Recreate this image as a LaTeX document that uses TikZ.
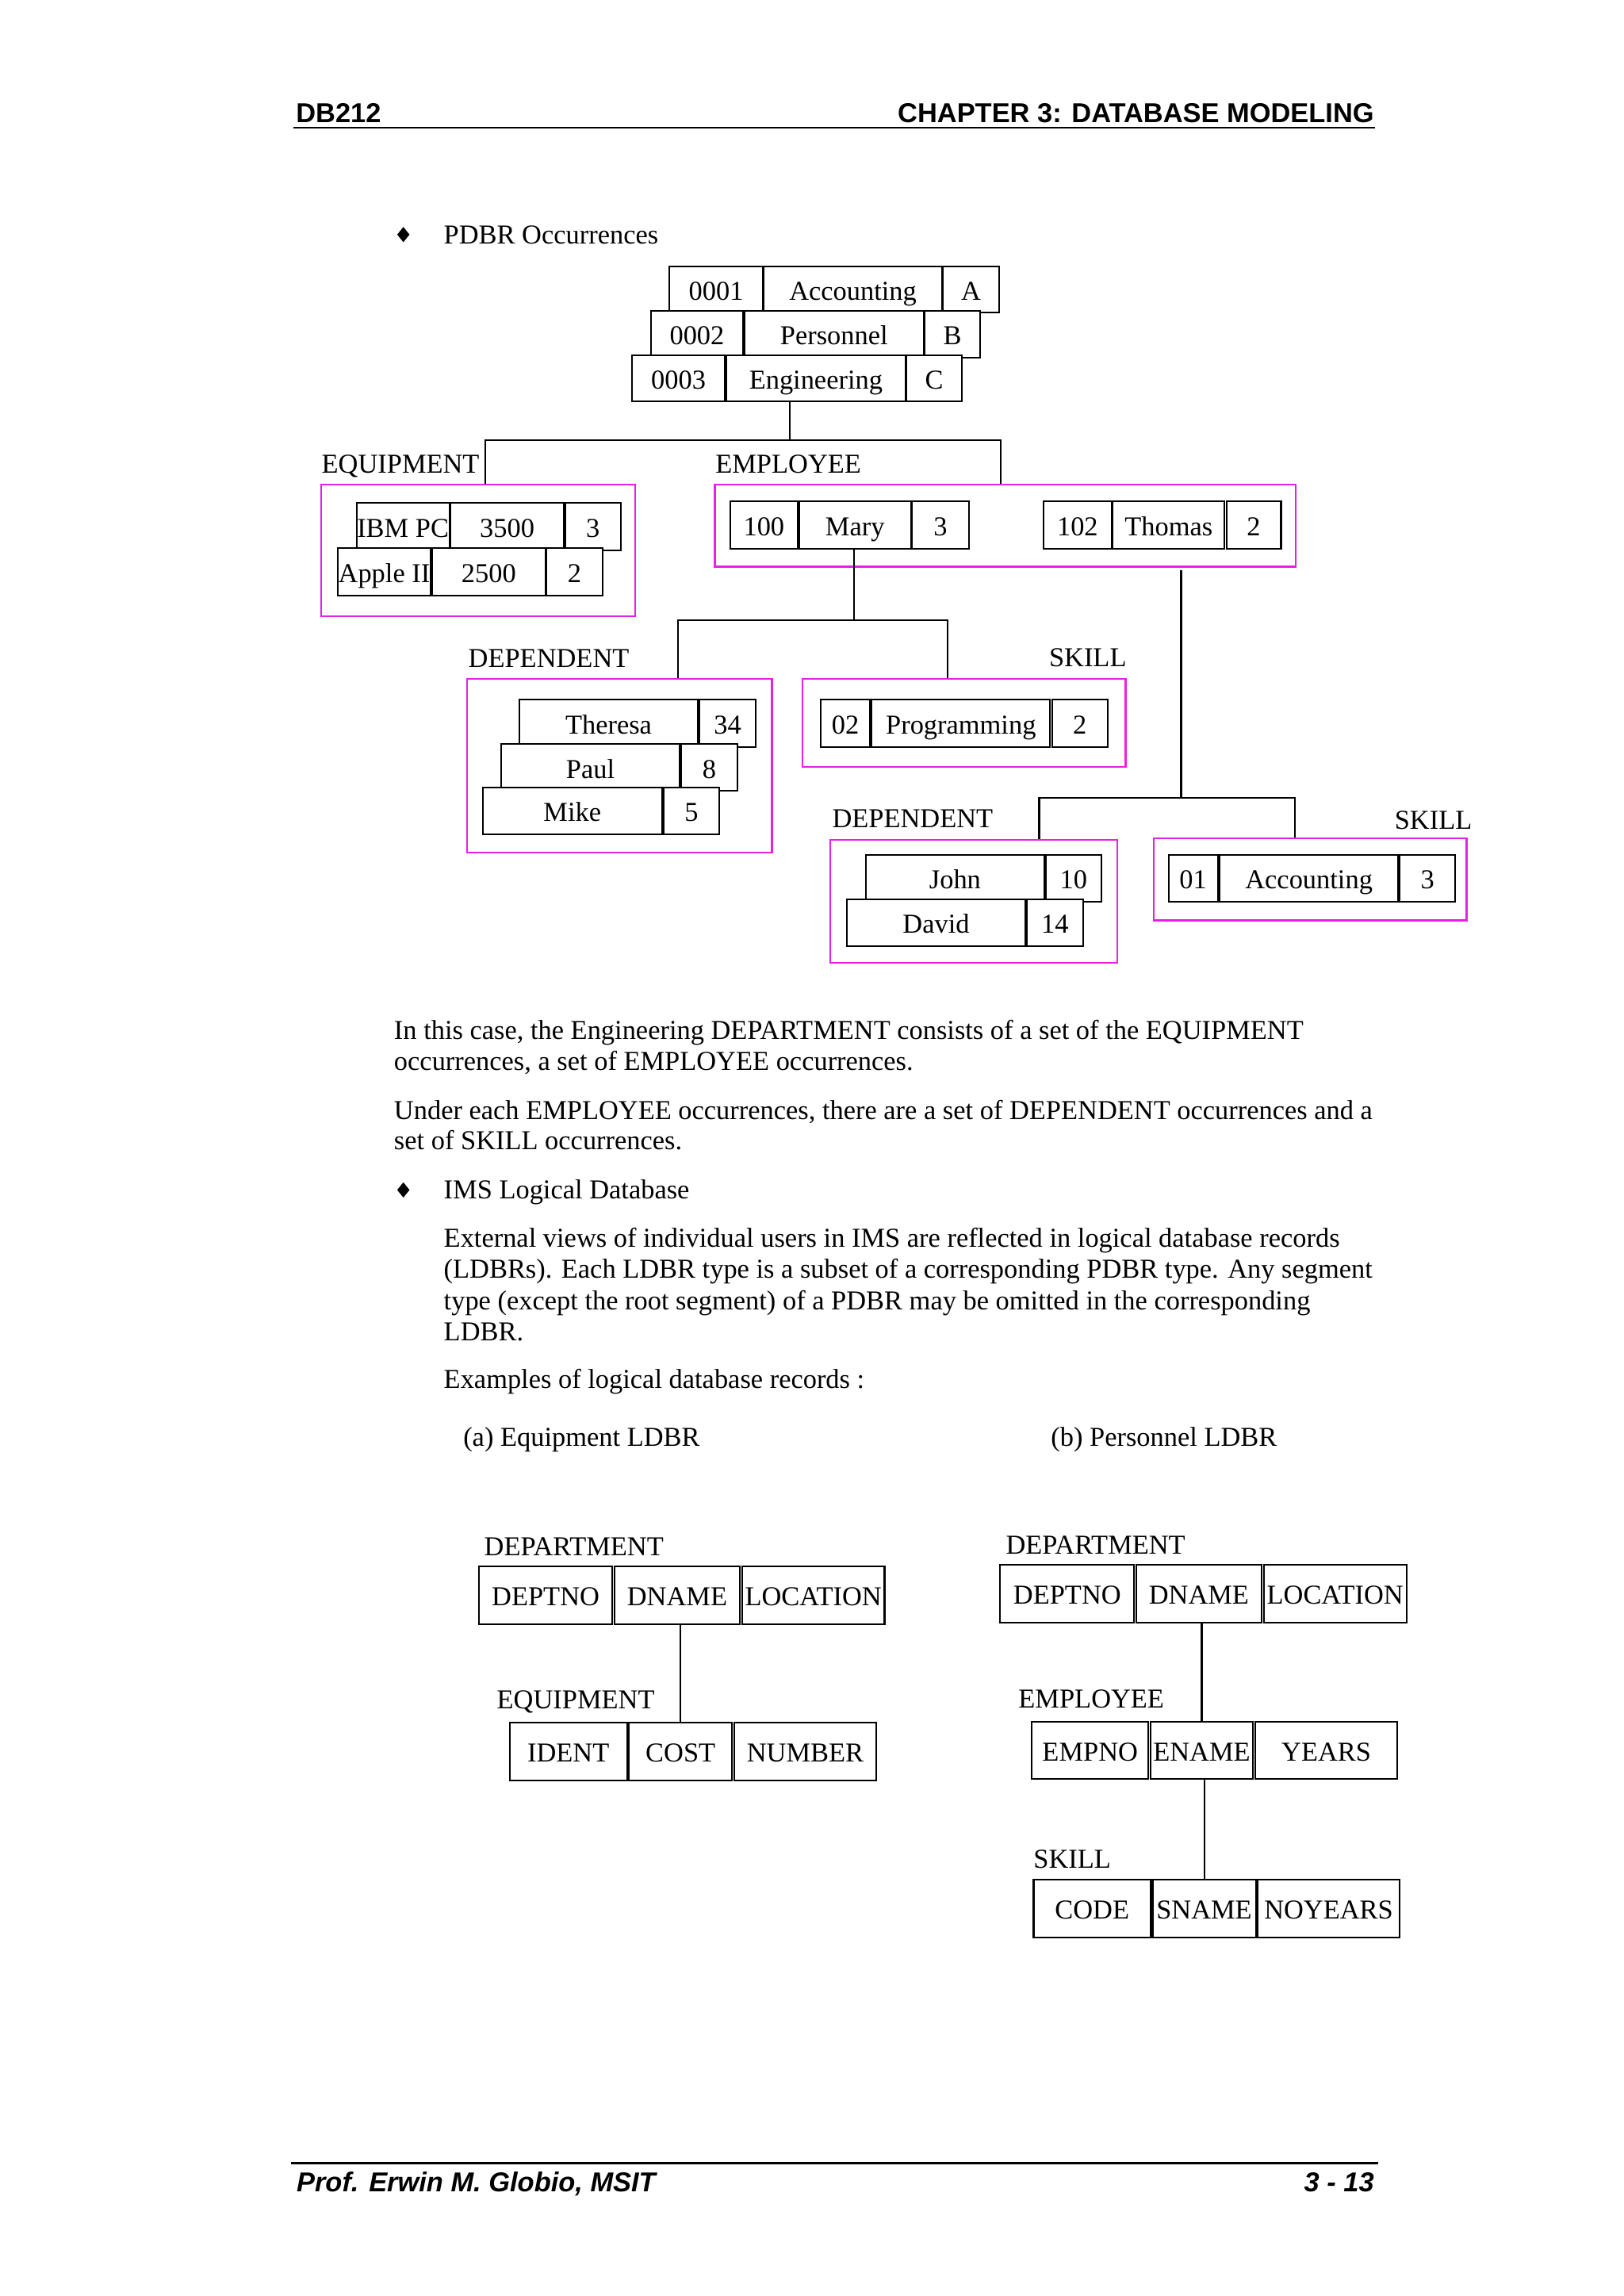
\documentclass[tikz,border=0pt]{standalone}
\usepackage{fontspec}
\setmainfont{Liberation Serif}
\newfontfamily\arialf{Liberation Sans}
\definecolor{mag}{RGB}{230,32,230}
\tikzset{
  cell/.style={draw=black, line width=0.6pt, fill=white, inner sep=0pt, text height=8.5pt, text depth=0.7pt},
  grp/.style={draw=mag, line width=0.7pt, inner sep=0pt},
  lbl/.style={inner sep=0pt, anchor=base west},
  lble/.style={inner sep=0pt, anchor=base east},
  conn/.style={draw=black, line width=0.6pt},
  hdr/.style={inner sep=0pt, font=\arialf\bfseries},
  ftr/.style={inner sep=0pt, font=\arialf\bfseries\itshape},
}
\newcommand\mkcell[7][cell]{\node[#1, minimum width={(#5-#3)*0.536pt}, minimum height={(#6-#4)*0.536pt}] (#2) at ({(#3+#5)/2},{-(#4+#6)/2}) {#7};}
\newcommand\bulletdia[2]{\fill (#1,{-#2+5.2}) -- ({#1+4.2},-#2) -- (#1,{-#2-5.2}) -- ({#1-4.2},-#2) -- cycle;}
\begin{document}
\begin{tikzpicture}[x=0.536pt,y=0.536pt]
\useasboundingbox (0,0) rectangle (1110,-1569.1);
\fill[white] (0,0) rectangle (1110,-1569.1);

% header
\node[hdr, anchor=base west] (hl) at (202,-84) {DB212};
\node[hdr, anchor=base east] (hr) at (939.5,-84) {CHAPTER 3: DATABASE MODELING};
\draw[line width=0.8pt] (200.5,-87.2) -- (940,-87.2);

% footer
\draw[line width=0.8pt] (199,-1478.2) -- (942,-1478.2);
\node[ftr, anchor=base west] (fl) at (202.4,-1497.7) {Prof. Erwin M. Globio, MSIT};
\node[ftr, anchor=base east] (fr) at (939.5,-1497.7) {3 - 13};

% bullet 1
\bulletdia{275.7}{160.3}
\node[lbl] (pdbr) at (303,-166.7) {PDBR Occurrences};

% department rows
\mkcell{d1a}{457.6}{182}{521.4}{213.5}{0001}
\mkcell{d1b}{521.9}{182}{644}{213.5}{Accounting}
\mkcell{d1c}{644.5}{182}{683}{213.5}{A}
\mkcell{d2a}{444.8}{212.3}{508}{244.3}{0002}
\mkcell{d2b}{508.8}{212.3}{631.4}{244.3}{Personnel}
\mkcell{d2c}{632}{212.3}{670}{244.3}{B}
\mkcell{d3a}{432}{243}{495.5}{274}{0003}
\mkcell{eng}{496.5}{243}{618.8}{274}{Engineering}
\mkcell{d3c}{619.6}{243}{657.5}{274}{C}

% group boxes
\mkcell[grp]{eqbox}{219.5}{331}{434}{421}{}
\mkcell[grp]{empbox}{488.7}{331}{885.5}{387.2}{}
\mkcell[grp]{depbox}{319.3}{463.8}{527.7}{582.7}{}
\mkcell[grp]{skbox}{548.5}{463.8}{769.4}{524}{}
\mkcell[grp]{dep2box}{567.5}{574}{763.8}{658}{}
\mkcell[grp]{sk2box}{788.7}{573}{1002.5}{628.9}{}

% labels
\node[lbl] (leq) at (219.5,-323.4) {EQUIPMENT};
\node[lbl] (lemp) at (488.7,-323.4) {EMPLOYEE};
\node[lbl] (ldep) at (319.8,-456.2) {DEPENDENT};
\node[lble] (lsk) at (770.3,-455.3) {SKILL};
\node[lbl] (ldep2) at (568.5,-565.3) {DEPENDENT};
\node[lble] (lsk2) at (1006.5,-566.4) {SKILL};

% equipment
\mkcell{e1a}{243.7}{343.8}{307.1}{376.3}{IBM PC}
\mkcell{e1b}{308}{343.8}{385.3}{376.3}{3500}
\mkcell{e1c}{386.2}{343.8}{424.4}{376.3}{3}
\mkcell{e2a}{230.7}{374.3}{294.5}{406.9}{Apple II}
\mkcell{e2b}{295.4}{374.3}{372.7}{406.9}{2500}
\mkcell{e2c}{373.6}{374.3}{411.8}{406.9}{2}

% employees
\mkcell{m1}{499}{342.7}{545.3}{375}{100}
\mkcell{mary}{546.2}{342.7}{622.6}{375}{Mary}
\mkcell{m3}{623.5}{342.7}{662.2}{375}{3}
\mkcell{t1}{713.3}{342.7}{759.7}{375}{102}
\mkcell{thomas}{760.6}{342.7}{837}{375}{Thomas}
\mkcell{t3}{838.3}{342.7}{875.6}{375}{2}

% dependents of Mary
\mkcell{th}{355}{478}{477}{510.6}{Theresa}
\mkcell{th2}{478.2}{478}{516.5}{510.6}{34}
\mkcell{pa}{342.6}{508.6}{464.5}{540.6}{Paul}
\mkcell{pa2}{465.7}{508.6}{504}{540.6}{8}
\mkcell{mi}{330}{538}{452.4}{570.4}{Mike}
\mkcell{mi2}{453.7}{538}{491.6}{570.4}{5}

% skill of Mary
\mkcell{s1}{561}{478}{594.6}{510.6}{02}
\mkcell{s2}{595.8}{478}{717.8}{510.6}{Programming}
\mkcell{s3}{719}{478}{757}{510.6}{2}

% dependents of Thomas
\mkcell{jo}{591.8}{584.1}{713.8}{616.1}{John}
\mkcell{jo2}{715}{584.1}{752.6}{616.1}{10}
\mkcell{da}{579}{614.8}{700.7}{646.5}{David}
\mkcell{da2}{702}{614.8}{740.2}{646.5}{14}

% skill of Thomas
\mkcell{u1}{798.7}{584.1}{832.3}{616.1}{01}
\mkcell{u2}{833.5}{584.1}{955.8}{616.1}{Accounting}
\mkcell{u3}{956.7}{584.1}{994.7}{616.1}{3}

% connectors
\coordinate (j0) at (540,-300.8);
\coordinate (j0l) at (331.7,-300.8);
\coordinate (j0r) at (684,-300.8);
\draw[conn] (eng.south -| j0) -- (j0);
\draw[conn] (eqbox.north -| j0l) -- (j0l) -- (j0r) -- (empbox.north -| j0r);
\coordinate (j1) at (583.5,-423.9);
\coordinate (j1l) at (463.6,-423.9);
\coordinate (j1r) at (647.7,-423.9);
\draw[conn] (mary.south -| j1) -- (j1);
\draw[conn] (depbox.north -| j1l) -- (j1l) -- (j1r) -- (skbox.north -| j1r);
\coordinate (j2) at (807.3,-545.2);
\coordinate (j2l) at (710.3,-545.2);
\coordinate (j2r) at (885.2,-545.2);
\draw[conn] ([yshift=-1pt]empbox.south -| j2) -- (j2);
\draw[conn] (dep2box.north -| j2l) -- (j2l) -- (j2r) -- (sk2box.north -| j2r);

% body text
\node[lbl] (p1a) at (269,-710.4) {In this case, the Engineering DEPARTMENT consists of a set of the EQUIPMENT};
\node[lbl] (p1b) at (269,-731.3) {occurrences, a set of EMPLOYEE occurrences.};
\node[lbl] (p2a) at (269,-765.2) {Under each EMPLOYEE occurrences, there are a set of DEPENDENT occurrences and a};
\node[lbl] (p2b) at (269,-785.5) {set of SKILL occurrences.};
\bulletdia{275.7}{813.2}
\node[lbl] (ims) at (303,-819.4) {IMS Logical Database};
\node[lbl] (p3a) at (303,-852.3) {External views of individual users in IMS are reflected in logical database records};
\node[lbl] (p3b) at (303,-873.6) {(LDBRs). Each LDBR type is a subset of a corresponding PDBR type. Any segment};
\node[lbl] (p3c) at (303,-894.9) {type (except the root segment) of a PDBR may be omitted in the corresponding};
\node[lbl] (p3d) at (303,-916.2) {LDBR.};
\node[lbl] (p4) at (303,-949) {Examples of logical database records :};
\node[lbl] (ca) at (316.3,-988.5) {(a) Equipment LDBR};
\node[lbl] (cb) at (718,-988.5) {(b) Personnel LDBR};

% (a) Equipment LDBR
\node[lbl] (adl) at (330.6,-1062.9) {DEPARTMENT};
\mkcell{adeptno}{327.3}{1070.5}{418.6}{1109.8}{DEPTNO}
\mkcell{adname}{420}{1070.5}{505.7}{1109.8}{DNAME}
\mkcell{aloc}{507.2}{1070.5}{604.6}{1109.8}{LOCATION}
\node[lbl] (ael) at (339.3,-1167.7) {EQUIPMENT};
\mkcell{aident}{348.3}{1177}{428.6}{1216.8}{IDENT}
\mkcell{acost}{430}{1177}{500.3}{1216.8}{COST}
\mkcell{anum}{501.9}{1177}{598.9}{1216.8}{NUMBER}
\draw[conn] (acost.north |- adname.south) -- (acost.north);

% (b) Personnel LDBR
\node[lbl] (bdl) at (687.2,-1062) {DEPARTMENT};
\mkcell{bdeptno}{683.7}{1069.3}{775.2}{1109}{DEPTNO}
\mkcell{bdname}{776.6}{1069.3}{862.3}{1109}{DNAME}
\mkcell{bloc}{863.7}{1069.3}{961.4}{1109}{LOCATION}
\node[lbl] (bel) at (695.8,-1167.4) {EMPLOYEE};
\mkcell{bempno}{705.2}{1176.5}{785}{1215.6}{EMPNO}
\mkcell{bename}{786.3}{1176.5}{856.5}{1215.6}{ENAME}
\mkcell{byears}{857.9}{1176.5}{955.2}{1215.6}{YEARS}
\node[lbl] (bsl) at (706.1,-1276.6) {SKILL};
\mkcell{bcode}{706.5}{1284.7}{786.4}{1324}{CODE}
\mkcell{bsname}{787.8}{1284.7}{858.3}{1324}{SNAME}
\mkcell{bnoy}{859.8}{1284.7}{956.5}{1324}{NOYEARS}
\draw[conn] (bename.north |- bdname.south) -- (bename.north);
\draw[conn] (bsname.north |- bename.south) -- (bsname.north);
\end{tikzpicture}
\end{document}
